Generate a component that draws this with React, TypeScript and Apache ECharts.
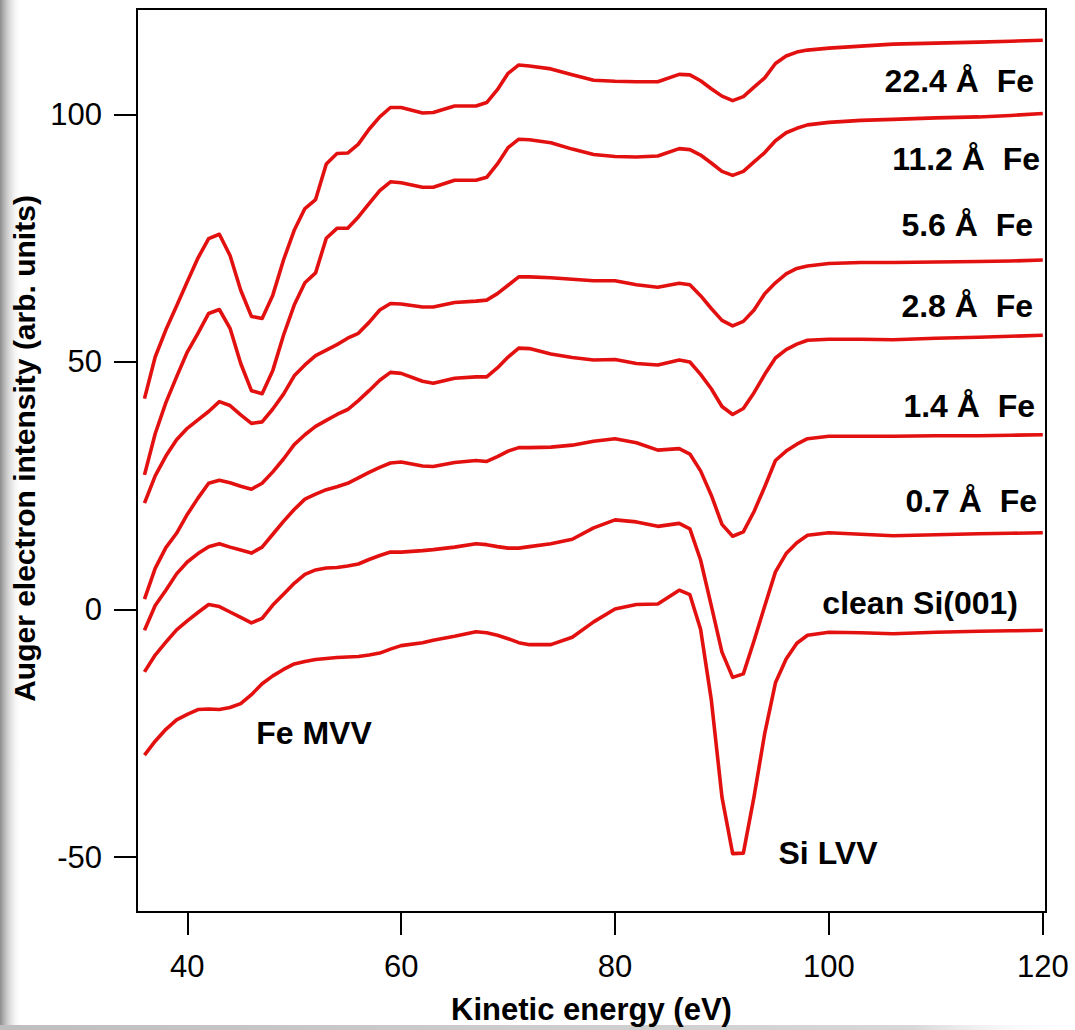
import React, { useEffect, useRef } from "react";
import * as echarts from "echarts";

// Kinetic energy grid (eV)
const energy = [
  36, 37, 38, 39, 40, 41, 42, 43, 44, 45,
  46, 47, 48, 49, 50, 51, 52, 53, 54, 55,
  56, 57, 58, 59, 60, 62, 63, 65, 67, 68,
  69, 70, 71, 72, 74, 76, 78, 80, 82, 84,
  86, 87, 88, 89, 90, 91, 92, 93, 94, 95,
  96, 97, 98, 100, 103, 106, 110, 114, 117, 120,
];

// Auger intensity (arb. units), offset spectra
const fe224 = [
  42.6, 51, 56.5, 61.3, 66.2, 71, 74.9, 75.8, 71.5, 64.5,
  59.2, 58.8, 63.5, 70.6, 76.6, 81, 82.8, 90, 92.1, 92.2,
  94, 97, 99.5, 101.4, 101.4, 100.3, 100.4, 101.7, 101.7, 102.4,
  105, 108.3, 110, 109.8, 109.2, 108, 106.9, 106.7, 106.6, 106.6,
  108.1, 108, 106.8, 105.2, 103.7, 102.8, 103.6, 105.5, 107.4, 110.3,
  111.8, 112.6, 113, 113.4, 113.8, 114.2, 114.4, 114.6, 114.8, 115,
];
const fe112 = [
  27.2, 35.5, 41.8, 47, 52, 55.8, 59.8, 60.6, 56.8, 49.7,
  44.2, 43.6, 48.3, 55.4, 61.5, 66, 68, 75, 77, 77,
  79.3, 82, 84.6, 86.4, 86.2, 85.3, 85.3, 86.7, 86.7, 87.3,
  90, 93.3, 95, 94.9, 94.3, 93, 91.9, 91.5, 91.4, 91.6,
  93.1, 92.9, 91.8, 90.2, 88.5, 87.7, 88.5, 90.4, 92.3, 94.7,
  96.3, 97.2, 97.9, 98.4, 98.8, 99, 99.3, 99.5, 99.8, 100.2,
];
const fe56 = [
  21.5, 27, 31, 34.3, 36.6, 38.3, 40, 42, 41.2, 39.3,
  37.6, 37.9, 40.5, 43.5, 47.2, 49.4, 51.3, 52.4, 53.5, 54.8,
  55.8, 58, 60.5, 61.8, 61.7, 61.1, 61.1, 62, 62.3, 62.5,
  63.8, 65.5, 67.2, 67.2, 67, 66.7, 66.4, 66.4, 65.6, 65.1,
  65.9, 65.6, 63.4, 60.8, 58.4, 57.3, 58.2, 60.5, 63.8, 66,
  67.8, 68.9, 69.4, 69.9, 70.1, 70.1, 70.2, 70.3, 70.4, 70.6,
];
const fe28 = [
  2.1, 8.3, 12.5, 15.4, 19.2, 22.5, 25.5, 26.1, 25.6, 24.9,
  24.3, 25.5, 27.8, 30.4, 33.3, 35.3, 37, 38.2, 39.4, 40.4,
  42.2, 44.2, 46.3, 47.9, 47.7, 46.1, 45.7, 46.7, 47, 47,
  48.8, 51, 52.8, 52.7, 51.6, 50.9, 50.4, 50.5, 49.7, 49.4,
  50.4, 50, 47.5, 44.6, 41, 39.4, 40.6, 43.8, 47.5, 50.8,
  52.5, 53.6, 54.4, 54.6, 54.6, 54.5, 54.8, 55, 55.2, 55.4,
];
const fe14 = [
  -4.2, 0.8, 3.9, 7.2, 9.6, 11.3, 12.7, 13.3, 12.6, 12,
  11.4, 12.6, 15.2, 17.8, 20.2, 22.3, 23.3, 24.2, 24.8, 25.5,
  26.6, 27.7, 28.7, 29.6, 29.8, 29, 28.9, 29.7, 30.1, 29.9,
  30.9, 32, 32.7, 32.7, 32.8, 33.2, 34, 34.5, 33.7, 32.2,
  32.5, 31.4, 28, 23.1, 17.2, 14.8, 15.7, 19.8, 24.8, 30.1,
  32, 33.4, 34.5, 35, 35, 35, 35.1, 35.1, 35.2, 35.3,
];
const fe07 = [
  -12.6, -9.2, -6.6, -4.1, -2.3, -0.6, 1, 0.6, -0.5, -1.6,
  -2.7, -1.8, 0.9, 3.1, 5.3, 7.1, 8, 8.4, 8.5, 8.8,
  9.2, 10.1, 10.9, 11.6, 11.6, 11.9, 12.1, 12.6, 13.3, 13.1,
  12.7, 12.4, 12.4, 12.7, 13.3, 14.2, 16.5, 18.1, 17.7, 16.8,
  17.4, 16.3, 10, 0.8, -8.6, -13.7, -13, -6.3, 0.7, 7.6,
  11.3, 13.5, 15, 15.5, 15.2, 14.9, 15.1, 15.3, 15.4, 15.5,
];
const cleanSi = [
  -29.4, -26.6, -24.2, -22.3, -21.2, -20.2, -20.1, -20.2, -19.8, -19,
  -17.2, -15, -13.4, -12.1, -11, -10.5, -10.1, -9.9, -9.7, -9.6,
  -9.5, -9.2, -8.8, -8, -7.3, -6.7, -6.2, -5.4, -4.5, -4.7,
  -5.2, -5.9, -6.7, -7.1, -7.1, -5.6, -2.5, 0.1, 1, 1.1,
  3.9, 3, -4, -18.2, -37.9, -49.3, -49.2, -37.8, -25, -14.8,
  -10, -6.8, -5.2, -4.6, -4.7, -4.9, -4.6, -4.4, -4.3, -4.2,
];

const seriesNames = [
  "22.4 Å Fe",
  "11.2 Å Fe",
  "5.6 Å Fe",
  "2.8 Å Fe",
  "1.4 Å Fe",
  "0.7 Å Fe",
  "clean Si(001)",
];
const curveLabels = [
  "22.4 Å\u00a0 Fe",
  "11.2 Å\u00a0 Fe",
  "5.6 Å\u00a0 Fe",
  "2.8 Å\u00a0 Fe",
  "1.4 Å\u00a0 Fe",
  "0.7 Å\u00a0 Fe",
  "clean Si(001)",
];
const peakLabels = ["Fe MVV", "Si LVV"];
const xTicks = [40, 60, 80, 100, 120];
const yTicks = [-50, 0, 50, 100];

export default function App() {
  const ref = useRef<HTMLDivElement>(null);

  useEffect(() => {
    if (!ref.current) return;
    const chart = echarts.init(ref.current, null, { renderer: "svg" });
    const FONT = "'Liberation Sans', Arial, Helvetica, sans-serif";
    const RED = "#e31010";
    const curves = [fe224, fe112, fe56, fe28, fe14, fe07, cleanSi];

    const labelPos = [
      [1034, 81],
      [1040, 159],
      [1033, 225],
      [1033, 306],
      [1035, 406],
      [1037, 501],
      [1018, 603],
    ];
    const peakPos = [
      [314, 733],
      [828, 853],
    ];

    const textStyle = (t: string) => ({
      text: t,
      fill: "#000",
      font: `bold 32px ${FONT}`,
      textAlign: "right",
      textVerticalAlign: "middle",
    });

    const graphic: any[] = [
      {
        type: "rect",
        x: 0,
        y: 0,
        silent: true,
        z: -10,
        shape: { width: 22, height: 1030 },
        style: {
          fill: new echarts.graphic.LinearGradient(0, 0, 1, 0, [
            { offset: 0, color: "rgba(140,140,140,1)" },
            { offset: 1, color: "rgba(255,255,255,0)" },
          ]),
        },
      },
      {
        type: "rect",
        x: 0,
        y: 1025,
        silent: true,
        z: -10,
        shape: { width: 1075, height: 5 },
        style: {
          fill: new echarts.graphic.LinearGradient(0, 0, 1, 0, [
            { offset: 0, color: "rgba(190,190,190,1)" },
            { offset: 0.85, color: "rgba(215,215,215,1)" },
            { offset: 1, color: "rgba(255,255,255,0)" },
          ]),
        },
      },
      ...curveLabels.map((t, i) => ({
        type: "text",
        x: labelPos[i][0],
        y: labelPos[i][1],
        z: 10,
        style: textStyle(t),
      })),
      ...peakLabels.map((t, i) => ({
        type: "text",
        x: peakPos[i][0],
        y: peakPos[i][1],
        z: 10,
        style: { ...textStyle(t), textAlign: "center" },
      })),
    ];

    const option: any = {
      animation: false,
      backgroundColor: "#ffffff",
      grid: {
        left: 137,
        right: 29,
        top: 9,
        bottom: 118,
        show: true,
        borderColor: "#000",
        borderWidth: 2,
        backgroundColor: "transparent",
        outerBoundsMode: "none",
      },
      xAxis: {
        type: "value",
        min: 35.3,
        max: 120.3,
        name: "Kinetic energy (eV)",
        nameLocation: "middle",
        nameGap: 82,
        nameTextStyle: {
          fontFamily: FONT,
          fontWeight: "bold",
          fontSize: 31,
          color: "#000",
        },
        axisLine: { show: true, onZero: false, lineStyle: { color: "#000", width: 2 } },
        axisTick: {
          show: true,
          inside: false,
          length: 23,
          customValues: xTicks,
          lineStyle: { color: "#000", width: 2 },
        },
        axisLabel: {
          customValues: xTicks,
          margin: 39,
          fontFamily: FONT,
          fontSize: 31,
          color: "#000",
        },
        splitLine: { show: false },
      },
      yAxis: {
        type: "value",
        min: -61.1,
        max: 121.3,
        name: "Auger electron intensity (arb. units)",
        nameLocation: "middle",
        nameGap: 93,
        nameTextStyle: {
          fontFamily: FONT,
          fontWeight: "bold",
          fontSize: 30,
          color: "#000",
          padding: [0, 0, 0, 24],
        },
        axisLine: { show: true, onZero: false, lineStyle: { color: "#000", width: 2 } },
        axisTick: {
          show: true,
          inside: false,
          length: 23,
          customValues: yTicks,
          lineStyle: { color: "#000", width: 2 },
        },
        axisLabel: {
          customValues: yTicks,
          margin: 35,
          fontFamily: FONT,
          fontSize: 31,
          color: "#000",
        },
        splitLine: { show: false },
      },
      series: curves.map((d, i) => ({
        type: "line",
        name: seriesNames[i],
        data: energy.map((e, j) => [e, d[j]]),
        symbol: "none",
        showSymbol: false,
        smooth: false,
        clip: true,
        lineStyle: { color: RED, width: 3.6, join: "round" },
        itemStyle: { color: RED },
      })),
      graphic,
    };

    chart.setOption(option);
    return () => chart.dispose();
  }, []);

  return (
    <div
      ref={ref}
      style={{ position: "fixed", left: 0, top: 0, width: 1075, height: 1030 }}
    />
  );
}
